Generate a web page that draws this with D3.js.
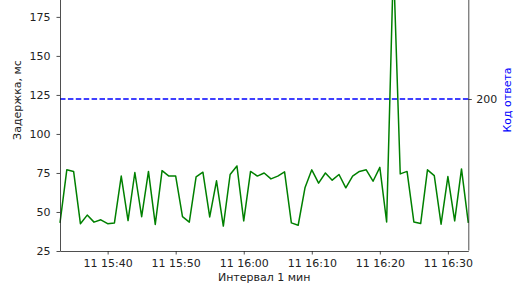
<!DOCTYPE html>
<html lang="ru">
<head>
  <meta charset="UTF-8">
  <title>Задержка и код ответа</title>
  <style>
    body { margin: 0; background: #fff; }
    svg { display: block; font-family: "DejaVu Sans", sans-serif; }
    .tick line, .domain { stroke: #222; stroke-width: 0.8; }
  </style>
</head>
<body>
  <svg id="chart" width="516" height="290"></svg>

  <script src="https://d3js.org/d3.v7.min.js"></script>
  <script>
    // one sample per minute, 11th day
    const times = [
      "15:33", "15:34", "15:35", "15:36", "15:37", "15:38", "15:39", "15:40", "15:41", "15:42",
      "15:43", "15:44", "15:45", "15:46", "15:47", "15:48", "15:49", "15:50", "15:51", "15:52",
      "15:53", "15:54", "15:55", "15:56", "15:57", "15:58", "15:59", "16:00", "16:01", "16:02",
      "16:03", "16:04", "16:05", "16:06", "16:07", "16:08", "16:09", "16:10", "16:11", "16:12",
      "16:13", "16:14", "16:15", "16:16", "16:17", "16:18", "16:19", "16:20", "16:21", "16:22",
      "16:23", "16:24", "16:25", "16:26", "16:27", "16:28", "16:29", "16:30", "16:31", "16:32",
      "16:33"
    ];
    const latency = [
      43, 77, 76, 42.5, 48, 43.5, 45, 42.5, 43, 73,
      44.5, 75.3, 47, 76, 42, 76.5, 73, 73, 47, 43.5,
      72.5, 75.5, 46.8, 70, 41, 74, 79.5, 44.3, 76, 73,
      75, 71.2, 73, 75.7, 43, 41.5, 65.5, 77, 68.5, 75,
      70.4, 74, 65.5, 73, 76, 77, 69.7, 78.6, 43.6, 210,
      74.4, 76, 43.6, 42.6, 77, 73.3, 42.2, 72.7, 44.3, 77.6,
      43
    ];
    const statusCode = 200;
    const latencyTicks = [25, 50, 75, 100, 125, 150, 175];
    const timeTicks = ["15:40", "15:50", "16:00", "16:10", "16:20", "16:30"];
    const codeTicks = [200];

    const day = "2023-01-11 ";
    const parse = d3.timeParse("%Y-%m-%d %H:%M");
    const points = times.map((t, i) => ({ t: parse(day + t), v: latency[i] }));

    // axes box; the top runs past the top of the picture
    const box = { left: 60, right: 468.3, top: -51, bottom: 251 };
    const width = box.right - box.left;
    const height = box.bottom - box.top;

    const svg = d3.select("#chart");
    const g = svg.append("g")
      .attr("transform", `translate(${box.left}, ${box.top})`);

    const x = d3.scaleTime()
      .domain(d3.extent(points, d => d.t))
      .range([0, width]);

    const y = d3.scaleLinear()
      .domain([25, 218.5])
      .range([height, 0]);

    const y2 = d3.scaleLinear()
      .domain([statusCode - 0.2, statusCode + 0.2])
      .range([height, 0]);

    // response code, dashed
    g.append("line")
      .attr("x1", 0)
      .attr("x2", width)
      .attr("y1", y2(statusCode) - 1)
      .attr("y2", y2(statusCode) - 1)
      .attr("stroke", "#0000ff")
      .attr("stroke-width", 1.5)
      .attr("stroke-dasharray", "5.5,2.4");

    // latency line
    g.append("path")
      .datum(points)
      .attr("fill", "none")
      .attr("stroke", "#008000")
      .attr("stroke-width", 1.5)
      .attr("stroke-linejoin", "round")
      .attr("d", d3.line().x(d => x(d.t)).y(d => y(d.v)));

    const xAxis = g.append("g")
      .attr("transform", `translate(0, ${height})`)
      .call(d3.axisBottom(x)
        .tickValues(timeTicks.map(t => parse(day + t)))
        .tickFormat(d3.timeFormat("%d %H:%M"))
        .tickSize(3.5)
        .tickPadding(5)
        .tickSizeOuter(0));

    const yAxis = g.append("g")
      .call(d3.axisLeft(y)
        .tickValues(latencyTicks)
        .tickSize(3.5)
        .tickPadding(6)
        .tickSizeOuter(0));

    const y2Axis = g.append("g")
      .attr("transform", `translate(${width}, -1)`)
      .call(d3.axisRight(y2)
        .tickValues(codeTicks)
        .tickFormat(d3.format("d"))
        .tickSize(3.5)
        .tickPadding(4.5)
        .tickSizeOuter(0));

    [xAxis, yAxis, y2Axis].forEach(a => a
      .attr("font-family", "DejaVu Sans")
      .attr("font-size", 11)
      .selectAll(".tick text").attr("fill", "#222"));

    // axis titles
    svg.append("text")
      .attr("x", (box.left + box.right) / 2)
      .attr("y", 281)
      .attr("text-anchor", "middle")
      .attr("font-size", 11)
      .attr("fill", "#222")
      .text("Интервал 1 мин");

    svg.append("text")
      .attr("transform", `translate(21, ${(box.top + box.bottom) / 2}) rotate(-90)`)
      .attr("text-anchor", "middle")
      .attr("font-size", 11)
      .attr("fill", "#222")
      .text("Задержка, мс");

    svg.append("text")
      .attr("transform", `translate(510.5, ${(box.top + box.bottom) / 2}) rotate(-90)`)
      .attr("text-anchor", "middle")
      .attr("font-size", 11)
      .attr("fill", "#0000ff")
      .text("Код ответа");
  </script>
</body>
</html>
